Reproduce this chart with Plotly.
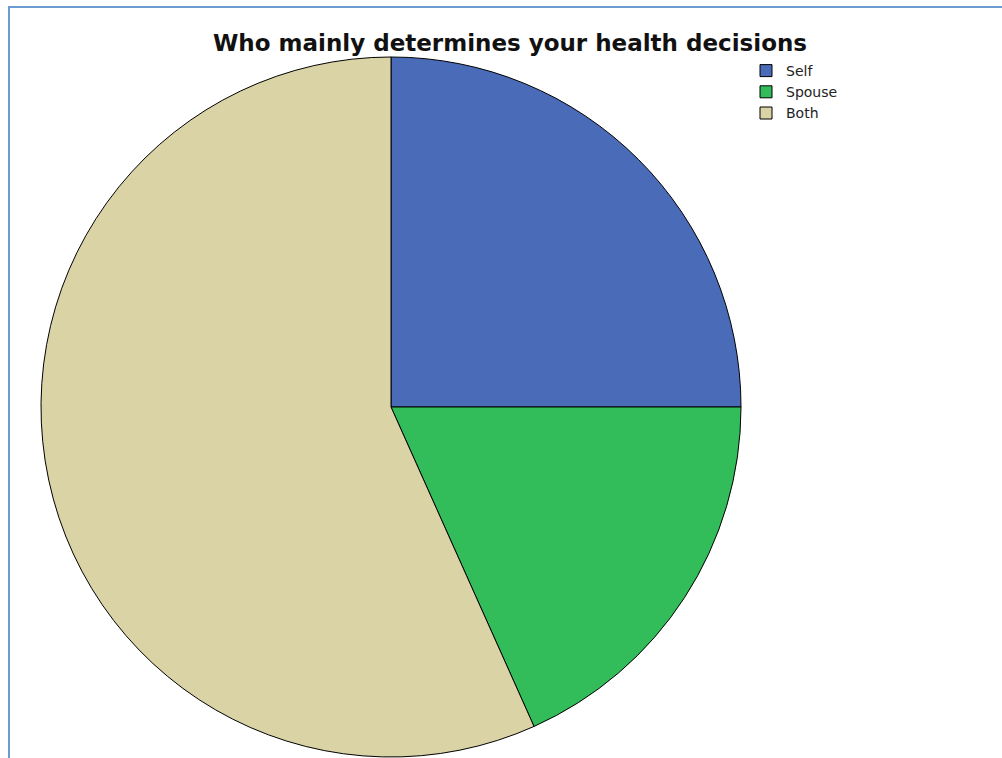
import plotly.graph_objects as go

labels = ["Self", "Spouse", "Both"]
values = [25.0, 18.3, 56.7]
colors = ["#4a6bb8", "#32bd5a", "#dad3a6"]

W, H = 1002, 758
cx, cy, r = 391, 407, 350

fig = go.Figure(go.Pie(
    labels=labels,
    values=values,
    sort=False,
    direction="clockwise",
    rotation=0,
    textinfo="none",
    hoverinfo="label+percent",
    marker=dict(colors=colors, line=dict(color="#000000", width=1)),
    domain=dict(x=[(cx - r) / W, (cx + r) / W], y=[(H - cy - r) / H, (H - cy + r) / H]),
))

fig.update_layout(
    width=W, height=H,
    margin=dict(l=0, r=0, t=0, b=0),
    paper_bgcolor="white",
    plot_bgcolor="white",
    title=dict(
        text="<b>Who mainly determines your health decisions</b>",
        x=510 / W, y=1 - 43 / H, xanchor="center", yanchor="middle",
        font=dict(family="DejaVu Sans", size=23, color="#111111"),
    ),
    legend=dict(
        x=746 / W, y=1 - 55 / H, xanchor="left", yanchor="top",
        font=dict(family="DejaVu Sans", size=14, color="#222222"),
        bgcolor="rgba(0,0,0,0)", tracegroupgap=0, itemwidth=30,
    ),
    shapes=[
        dict(type="line", xref="paper", yref="paper", x0=8 / W, x1=1, y0=1 - 7 / H, y1=1 - 7 / H,
             line=dict(color="#6a9bd1", width=2)),
        dict(type="line", xref="paper", yref="paper", x0=9 / W, x1=9 / W, y0=0, y1=1 - 6 / H,
             line=dict(color="#6a9bd1", width=2)),
    ],
)

fig.write_html("out.html")
